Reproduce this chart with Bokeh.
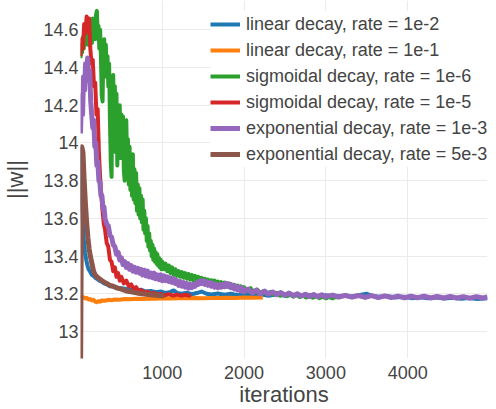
from bokeh.plotting import figure
from bokeh.models import Range1d, FixedTicker, Legend, LegendItem
from bokeh.embed import file_html
from bokeh.resources import INLINE

series_names = [
    "linear decay, rate = 1e-2",
    "linear decay, rate = 1e-1",
    "sigmoidal decay, rate = 1e-6",
    "sigmoidal decay, rate = 1e-5",
    "exponential decay, rate = 1e-3",
    "exponential decay, rate = 5e-3",
]
colors = ["#1f77b4", "#ff7f0e", "#2ca02c", "#d62728", "#9467bd", "#8c564b"]

x_ticks = [1000, 2000, 3000, 4000]
x_tick_labels = ["1000", "2000", "3000", "4000"]
y_ticks = [13.0, 13.2, 13.4, 13.6, 13.8, 14.0, 14.2, 14.4, 14.6]
y_tick_labels = ["13", "13.2", "13.4", "13.6", "13.8", "14", "14.2", "14.4", "14.6"]

# linear decay, rate = 1e-2
lin2_x = [0, 10, 20, 30, 40, 55, 70, 85, 100, 120, 140, 160, 180, 200, 230, 260, 290, 320, 360, 400,
          450, 500, 560, 620, 680, 740, 800, 860, 920, 980, 1040, 1100, 1140, 1180, 1240, 1300, 1360,
          1420, 1480, 1540, 1600, 1680, 1760, 1840, 1920, 2000, 2100, 2200, 2300, 2400, 2500, 2600,
          2700, 2800, 2900, 3000, 3100, 3200, 3300, 3400, 3500, 3560, 3650, 3750, 3850, 3950, 4050,
          4150, 4250, 4350, 4450, 4550, 4650, 4750, 4850, 4975]
lin2_y = [13.98, 13.80, 13.66, 13.56, 13.49, 13.42, 13.38, 13.35, 13.33, 13.315, 13.30, 13.295, 13.285,
          13.28, 13.27, 13.265, 13.255, 13.25, 13.24, 13.24, 13.232, 13.23, 13.225, 13.222, 13.218,
          13.222, 13.212, 13.215, 13.208, 13.212, 13.205, 13.21, 13.218, 13.205, 13.2, 13.206, 13.198,
          13.204, 13.212, 13.2, 13.196, 13.202, 13.195, 13.2, 13.193, 13.199, 13.192, 13.198, 13.19,
          13.197, 13.19, 13.195, 13.189, 13.194, 13.188, 13.193, 13.187, 13.19, 13.186, 13.192, 13.2,
          13.19, 13.184, 13.188, 13.18, 13.184, 13.177, 13.181, 13.176, 13.18, 13.175, 13.179, 13.174,
          13.178, 13.173, 13.176]

# linear decay, rate = 1e-1
lin1_x = [0, 20, 40, 60, 80, 100, 120, 140, 160, 180, 200, 220, 240, 260, 300, 340, 380, 420, 480,
          540, 600, 680, 760, 840, 920, 1000, 1100, 1200, 1300, 1400, 1500, 1600, 1700, 1800, 1900,
          2000, 2100, 2230]
lin1_y = [13.19, 13.185, 13.18, 13.175, 13.178, 13.17, 13.172, 13.165, 13.168, 13.158, 13.155, 13.162,
          13.158, 13.165, 13.163, 13.168, 13.166, 13.17, 13.169, 13.172, 13.171, 13.174, 13.173,
          13.175, 13.174, 13.176, 13.175, 13.177, 13.176, 13.178, 13.177, 13.178, 13.178, 13.179,
          13.178, 13.18, 13.179, 13.18]

# sigmoidal decay, rate = 1e-6
sig6_x = [0, 10, 20, 30, 40, 50, 60, 70, 80, 90, 100, 110, 120, 130, 140, 150, 160, 170, 180, 190,
          200, 210, 220, 230, 240, 250, 260, 270, 280, 290, 300, 310, 320, 330, 340, 350, 360, 370,
          380, 390, 400, 410, 420, 430, 440, 450, 460, 470, 480, 490, 500, 510, 520, 530, 540, 550,
          560, 570, 580, 590, 600, 610, 620, 630, 640, 650, 660, 670, 680, 690, 700, 710, 720, 730,
          740, 750, 760, 770, 780, 790, 800, 810, 820, 830, 840, 850, 860, 870, 880, 890, 900, 910,
          920, 930, 940, 950, 960, 970, 980, 990, 1000,
          1020, 1040, 1060, 1080, 1100, 1120, 1140, 1160, 1180, 1200, 1220, 1240, 1260, 1280, 1300,
          1320, 1340, 1360, 1380, 1400, 1420, 1440, 1460, 1480, 1500, 1520, 1540, 1560, 1580, 1600,
          1620, 1640, 1660, 1680, 1700, 1720, 1740, 1760, 1780, 1800, 1820, 1840, 1860, 1880, 1900,
          1920, 1940, 1960, 1980, 2000,
          2040, 2080, 2120, 2160, 2200, 2240, 2280, 2320, 2360, 2400, 2440, 2480, 2520, 2560, 2600,
          2640, 2680, 2720, 2760, 2800, 2840, 2880, 2920, 2960, 3000, 3040, 3080, 3120, 3150]
sig6_y = [14.45, 14.52, 14.48, 14.56, 14.50, 14.58, 14.52, 14.61, 14.54, 14.60, 14.52, 14.64, 14.56,
          14.62, 14.53, 14.66, 14.57, 14.63, 14.55, 14.68, 14.70, 14.58, 14.62, 14.50, 14.60, 14.45,
          14.25, 14.22, 14.50, 14.55, 14.38, 14.52, 14.35, 14.46, 14.30, 14.42, 14.12, 13.90, 13.82,
          14.28, 14.36, 14.05, 14.30, 13.95, 14.26, 13.88, 14.10, 13.98, 14.20, 13.92, 14.15, 13.96,
          14.14, 13.85, 13.80, 14.08, 14.12, 13.88, 14.02, 13.78, 13.98, 13.75, 13.92, 13.72, 13.94,
          13.70, 13.86, 13.68, 13.84, 13.64, 13.78, 13.62, 13.76, 13.60, 13.72, 13.58, 13.70, 13.54,
          13.64, 13.52, 13.60, 13.48, 13.56, 13.45, 13.52, 13.43, 13.48, 13.40, 13.46, 13.38, 13.44,
          13.37, 13.42, 13.36, 13.41, 13.35, 13.39, 13.34, 13.38, 13.33, 13.37,
          13.33, 13.36, 13.32, 13.35, 13.31, 13.34, 13.30, 13.33, 13.295, 13.32, 13.29, 13.315, 13.285,
          13.31, 13.28, 13.305, 13.275, 13.30, 13.27, 13.295, 13.265, 13.29, 13.26, 13.285, 13.258,
          13.28, 13.255, 13.275, 13.25, 13.272, 13.248, 13.27, 13.245, 13.265, 13.242, 13.262, 13.24,
          13.26, 13.238, 13.255, 13.235, 13.252, 13.232, 13.248, 13.228, 13.244, 13.224, 13.24,
          13.22, 13.235,
          13.215, 13.23, 13.208, 13.222, 13.202, 13.215, 13.198, 13.21, 13.195, 13.205, 13.19, 13.20,
          13.187, 13.197, 13.185, 13.194, 13.183, 13.191, 13.18, 13.189, 13.179, 13.187, 13.177,
          13.185, 13.176, 13.184, 13.176, 13.183, 13.18]

# sigmoidal decay, rate = 1e-5
sig5_x = [0, 15, 30, 45, 60, 75, 90, 105, 120, 135, 150, 165, 180, 195, 210, 225, 240, 255, 270, 285,
          300, 320, 340, 360, 380, 400, 420, 440, 460, 480, 500, 530, 560, 590, 620, 650, 680, 710,
          740, 780, 820, 860, 900, 940, 980, 1030, 1080, 1130, 1180, 1230, 1280, 1330, 1350]
sig5_y = [14.46, 14.55, 14.50, 14.63, 14.58, 14.67, 14.60, 14.66, 14.50, 14.42, 14.44, 14.30, 14.32,
          14.15, 14.18, 13.95, 13.82, 13.72, 13.64, 13.57, 13.54, 13.47, 13.45, 13.38, 13.37, 13.32,
          13.34, 13.29, 13.31, 13.27, 13.29, 13.255, 13.27, 13.24, 13.25, 13.225, 13.235, 13.215,
          13.22, 13.205, 13.212, 13.20, 13.205, 13.195, 13.20, 13.192, 13.198, 13.19, 13.196, 13.19,
          13.195, 13.19, 13.193]

# exponential decay, rate = 1e-3
exp3_x = [0, 12, 25, 37, 50, 62, 75, 87, 100, 112, 125, 137, 150, 162, 175, 187, 200, 212, 225, 237,
          250, 262, 275, 287,
          300, 320, 340, 360, 380, 400, 420, 440, 460, 480, 500, 520, 540, 560, 580, 600, 620, 640,
          660, 680, 700, 720, 740, 760, 780, 800, 820, 840, 860, 880, 900, 920, 940, 960, 980, 1000,
          1020, 1040, 1060, 1080, 1100, 1120, 1140, 1160, 1180, 1200, 1220, 1240, 1260, 1280, 1300,
          1320, 1340, 1360, 1380, 1400, 1420, 1440, 1460, 1480, 1500, 1520, 1540, 1560, 1580, 1600,
          1620, 1640, 1660, 1680, 1700, 1720, 1740, 1760, 1780, 1800, 1820, 1840, 1860, 1880, 1900,
          1920, 1940, 1960, 1980, 2000,
          2050, 2100, 2150, 2200, 2250, 2300, 2350, 2400, 2450, 2500, 2550, 2600, 2650, 2700, 2750,
          2800, 2850, 2900, 2950, 3000,
          3080, 3160, 3240, 3320, 3400, 3480, 3560, 3640, 3720, 3800, 3880, 3960, 4040, 4120, 4200,
          4280, 4360, 4440, 4520, 4600, 4680, 4760, 4840, 4920, 4975]
exp3_y = [14.05, 14.25, 14.15, 14.35, 14.28, 14.42, 14.33, 14.45, 14.36, 14.38, 14.22, 14.15, 14.08,
          14.12, 13.98, 14.00, 13.88, 13.90, 13.80, 13.79, 13.72, 13.72, 13.65, 13.66,
          13.60, 13.57, 13.56, 13.51, 13.50, 13.46, 13.45, 13.41, 13.42, 13.38, 13.39, 13.355, 13.37,
          13.34, 13.36, 13.33, 13.35, 13.32, 13.34, 13.315, 13.335, 13.31, 13.33, 13.30, 13.325,
          13.295, 13.32, 13.29, 13.31, 13.285, 13.31, 13.28, 13.30, 13.275, 13.30, 13.27, 13.295,
          13.27, 13.29, 13.265, 13.285, 13.26, 13.28, 13.255, 13.27, 13.245, 13.265, 13.24, 13.26,
          13.235, 13.255, 13.23, 13.25, 13.232, 13.25, 13.24, 13.26, 13.25, 13.268, 13.255, 13.27,
          13.25, 13.265, 13.245, 13.26, 13.24, 13.255, 13.235, 13.25, 13.232, 13.248, 13.235, 13.25,
          13.238, 13.255, 13.24, 13.252, 13.232, 13.245, 13.226, 13.24, 13.22, 13.235, 13.215, 13.23,
          13.212,
          13.225, 13.205, 13.22, 13.20, 13.215, 13.198, 13.21, 13.195, 13.207, 13.193, 13.204, 13.19,
          13.20, 13.188, 13.198, 13.186, 13.196, 13.185, 13.195, 13.184,
          13.193, 13.183, 13.192, 13.182, 13.191, 13.181, 13.19, 13.18, 13.189, 13.18, 13.188, 13.179,
          13.187, 13.179, 13.187, 13.178, 13.186, 13.178, 13.186, 13.178, 13.185, 13.177, 13.185,
          13.178, 13.183]

# exponential decay, rate = 5e-3
exp5_x = [0, 15, 30, 45, 60, 75, 90, 105, 120, 140, 160, 180, 200, 230, 260, 290, 320, 360, 400, 450,
          500, 560, 620, 680, 740, 800, 860, 920, 980, 1025]
exp5_y = [12.70, 13.98, 13.95, 13.80, 13.68, 13.58, 13.50, 13.44, 13.40, 13.36, 13.32, 13.30, 13.29,
          13.28, 13.27, 13.262, 13.255, 13.245, 13.24, 13.23, 13.225, 13.215, 13.21, 13.205, 13.20,
          13.198, 13.195, 13.192, 13.19, 13.19]

all_x = [lin2_x, lin1_x, sig6_x, sig5_x, exp3_x, exp5_x]
all_y = [lin2_y, lin1_y, sig6_y, sig5_y, exp3_y, exp5_y]
widths = [4, 4, 4, 4, 5, 5]

FONT = "Liberation Sans"
TXT = "#444444"

p = figure(width=496, height=409, output_backend="svg", toolbar_location=None,
           x_range=Range1d(0, 4976), y_range=Range1d(12.857, 14.755),
           min_border_left=79, min_border_right=9, min_border_top=0, min_border_bottom=51)
p.outline_line_color = None
p.background_fill_color = "white"
p.border_fill_color = "white"

items = []
for name, c, xs, ys, w in zip(series_names, colors, all_x, all_y, widths):
    r = p.line(xs, ys, line_color=c, line_width=w, line_join="round")
    items.append(LegendItem(label=name, renderers=[r]))

legend = Legend(items=items, location=(130, 191), margin=0, padding=1, spacing=0,
                glyph_width=30, glyph_height=26, label_height=26, label_standoff=6,
                label_text_font=FONT, label_text_font_size="18px", label_text_color=TXT,
                border_line_color=None, background_fill_color="white", background_fill_alpha=1.0)
p.add_layout(legend)

for ax in (p.xaxis[0], p.yaxis[0]):
    ax.axis_line_color = None
    ax.major_tick_line_color = None
    ax.minor_tick_line_color = None
    ax.major_tick_out = 0
    ax.major_tick_in = 0
    ax.major_label_text_font = FONT
    ax.major_label_text_font_size = "18px"
    ax.major_label_text_color = TXT
    ax.axis_label_text_font = FONT
    ax.axis_label_text_font_size = "22px"
    ax.axis_label_text_color = TXT
    ax.axis_label_text_font_style = "normal"

p.xaxis.ticker = FixedTicker(ticks=x_ticks)
p.xaxis.major_label_overrides = dict(zip(x_ticks, x_tick_labels))
p.xaxis.axis_label = "iterations"
p.xaxis.major_label_standoff = 7
p.xaxis.axis_label_standoff = 0

p.yaxis.ticker = FixedTicker(ticks=y_ticks)
p.yaxis.major_label_overrides = dict(zip(y_ticks, y_tick_labels))
p.yaxis.axis_label = "||w||"
p.yaxis.major_label_standoff = 2
p.yaxis.axis_label_standoff = 12

p.xgrid.ticker = FixedTicker(ticks=x_ticks)
p.ygrid.ticker = FixedTicker(ticks=y_ticks)
p.xgrid.grid_line_color = "#ebebeb"
p.ygrid.grid_line_color = "#ebebeb"

open("out.html", "w").write(file_html(p, INLINE))
